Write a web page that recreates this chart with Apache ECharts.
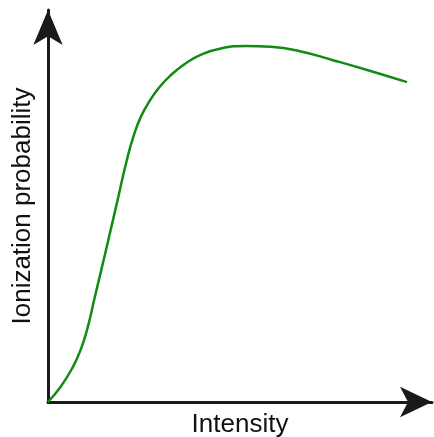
<!DOCTYPE html>
<html>
<head>
<meta charset="utf-8">
<script src="https://cdn.jsdelivr.net/npm/echarts@6/dist/echarts.min.js"></script>
<style>
  html, body { margin: 0; padding: 0; background: #fff; }
  #chart { width: 434px; height: 437px; }
</style>
</head>
<body>
<div id="chart"></div>
<script>
// curve (arbitrary units, 0-100)
var intensity = [0, 3.3, 6.3, 8.5, 10.3, 12.1, 14.2, 16.3, 18.4, 20.5, 22.3, 24.2, 26.6, 29.0, 31.8, 35.7, 39.6, 45.0, 51.5, 58.0, 65.6, 74.2, 83.1, 93.5];
var probability = [0, 3.9, 8.6, 13.3, 18.9, 26.4, 35.0, 43.8, 52.7, 61.6, 67.9, 72.8, 77.0, 80.3, 83.2, 86.3, 88.5, 90.2, 90.8, 90.6, 89.5, 87.2, 84.7, 81.6];
var xName = 'Intensity';
var yName = 'Ionization probability';

var points = intensity.map(function (x, i) { return [x, probability[i]]; });

var myChart = echarts.init(document.getElementById('chart'));
var option = {
    animation: false,
    grid: { left: 48, right: 2, top: 10, bottom: 35, outerBoundsMode: 'none', containLabel: false },
    xAxis: {
        type: 'value', min: 0, max: 100,
        name: xName, nameLocation: 'middle', nameGap: 10,
        nameTextStyle: { fontFamily: 'Liberation Sans', fontSize: 26, color: '#111' },
        axisLine: { lineStyle: { color: '#1a1a1a', width: 3 }, symbol: ['none', 'arrow'], symbolSize: [23, 32] },
        axisTick: { show: false }, axisLabel: { show: false }, splitLine: { show: false }
    },
    yAxis: {
        type: 'value', min: 0, max: 100,
        name: yName, nameLocation: 'middle', nameGap: 12,
        nameTextStyle: { fontFamily: 'Liberation Sans', fontSize: 26, color: '#111' },
        axisLine: { lineStyle: { color: '#1a1a1a', width: 3 }, symbol: ['none', 'arrow'], symbolSize: [22, 35] },
        axisTick: { show: false }, axisLabel: { show: false }, splitLine: { show: false }
    },
    series: [{
        type: 'line',
        data: points,
        smooth: 0.5,
        showSymbol: false,
        lineStyle: { color: '#138a13', width: 2.5 }
    }]
};
myChart.setOption(option);
</script>
</body>
</html>
